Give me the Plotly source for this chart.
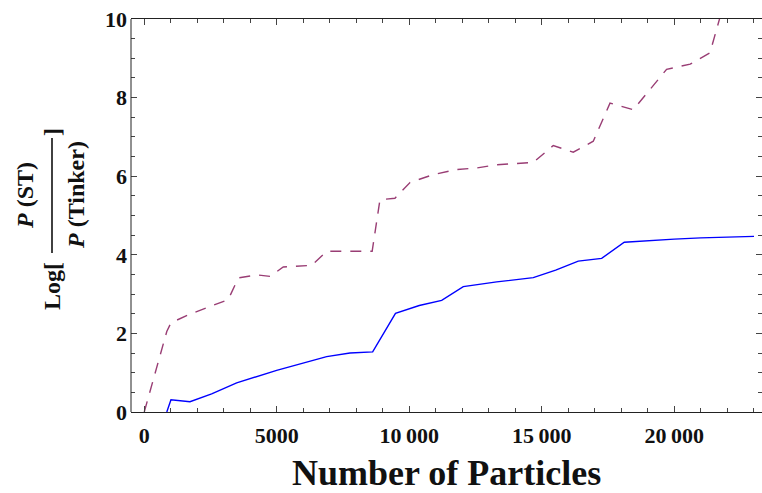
import plotly.graph_objects as go

# Log-ratio of probabilities versus system size
solid_x = [850, 1008, 1725, 2543, 3487, 4996, 6883, 7762, 8619, 9480, 10377, 11223,
           12038, 13300, 14679, 15525, 16377, 17260, 18113, 19000, 20000, 21000,
           22100, 22500, 23008]
solid_y = [0.0, 0.31, 0.26, 0.46, 0.74, 1.06, 1.41, 1.50, 1.53, 2.51, 2.71, 2.84,
           3.19, 3.31, 3.42, 3.61, 3.84, 3.91, 4.32, 4.36, 4.40, 4.43,
           4.45, 4.45, 4.47]

dashed_x = [0, 850, 1008, 1725, 3170, 3547, 4240, 4745, 5245, 6317, 6883, 8600,
            8894, 9460, 10027, 10906, 11789, 12543, 13298, 14679, 15434, 16189,
            16943, 17574, 18453, 19710, 20600, 21347, 22000]
dashed_y = [0.0, 2.05, 2.27, 2.49, 2.86, 3.41, 3.49, 3.45, 3.69, 3.73, 4.09, 4.09,
            5.40, 5.44, 5.84, 6.04, 6.17, 6.21, 6.29, 6.35, 6.78, 6.61,
            6.89, 7.86, 7.69, 8.72, 8.85, 9.14, 10.7]

x_tickvals = [0, 5000, 10000, 15000, 20000]
x_ticktext = ["0", "5000", "10\u2009000", "15\u2009000", "20\u2009000"]
y_tickvals = [0, 2, 4, 6, 8, 10]
y_ticktext = ["0", "2", "4", "6", "8", "10"]

W, H = 762, 493
L, R, T, B = 131, 0, 19, 81
PW, PH = W - L - R, H - T - B

def px(xp):
    return (xp - L) / PW

def py(yp):
    return (H - B - yp) / PH

SERIF = "Liberation Serif"

fig = go.Figure()
fig.add_trace(go.Scatter(x=solid_x, y=solid_y, mode="lines",
                         line=dict(color="#0000FF", width=1.4), showlegend=False))
fig.add_trace(go.Scatter(x=dashed_x, y=dashed_y, mode="lines",
                         line=dict(color="#993D74", width=1.4, dash="11px,9px"),
                         showlegend=False))

axis_common = dict(ticks="inside", ticklen=6, tickwidth=1, tickcolor="#444",
                   linecolor="#222", linewidth=1, showgrid=False, zeroline=False,
                   tickfont=dict(family=SERIF, size=22, color="#111", weight="bold"))

fig.update_xaxes(range=[-500, 23310], tickmode="array", tickvals=x_tickvals,
                 ticktext=x_ticktext, showline=True, mirror="ticks",
                 ticklabelstandoff=4,
                 minor=dict(dtick=1000, ticks="inside", ticklen=4, tickcolor="#444"),
                 **axis_common)
fig.update_yaxes(range=[0, 10], tickmode="array", tickvals=y_tickvals,
                 ticktext=y_ticktext, showline=False, mirror="ticks",
                 ticklabelstandoff=3,
                 minor=dict(dtick=0.5, ticks="inside", ticklen=4, tickcolor="#444"),
                 **axis_common)

# left frame edge
fig.add_shape(type="line", xref="paper", yref="paper", x0=0, x1=0, y0=0, y1=1,
              line=dict(color="#222", width=1))

# y-axis label: Log[ P(ST) / P(Tinker) ]
title_font = dict(family=SERIF, size=24, color="#111", weight="bold")
fig.add_annotation(text="Log[", x=px(52), y=py(286), xref="paper", yref="paper",
                   textangle=-90, showarrow=False, font=title_font,
                   xanchor="center", yanchor="middle")
fig.add_annotation(text="]", x=px(52), y=py(132), xref="paper", yref="paper",
                   textangle=-90, showarrow=False, font=title_font,
                   xanchor="center", yanchor="middle")
fig.add_annotation(text="<i>P</i> (ST)", x=px(25), y=py(196), xref="paper", yref="paper",
                   textangle=-90, showarrow=False, font=title_font,
                   xanchor="center", yanchor="middle")
fig.add_annotation(text="<i>P</i> (Tinker)", x=px(76), y=py(195), xref="paper", yref="paper",
                   textangle=-90, showarrow=False, font=title_font,
                   xanchor="center", yanchor="middle")
fig.add_shape(type="line", xref="paper", yref="paper", x0=px(52), x1=px(52),
              y0=py(253), y1=py(138), line=dict(color="#111", width=1.6))

# x-axis title
fig.add_annotation(text="Number of Particles", x=px(446.5), y=py(473),
                   xref="paper", yref="paper", showarrow=False,
                   font=dict(family=SERIF, size=36, color="#111", weight="bold"),
                   xanchor="center", yanchor="middle")

fig.update_layout(width=W, height=H, margin=dict(l=L, r=R, t=T, b=B),
                  plot_bgcolor="white", paper_bgcolor="white")

fig.write_html("out.html")
